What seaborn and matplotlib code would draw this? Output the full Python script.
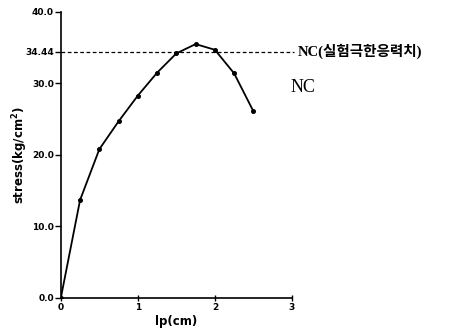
import matplotlib
matplotlib.use("Agg")
import matplotlib.pyplot as plt
import seaborn as sns
import pandas as pd

# 데이터
lp_cm = [0.0, 0.25, 0.5, 0.75, 1.0, 1.25, 1.5, 1.75, 2.0, 2.25, 2.5]
stress = [0.0, 13.7, 20.8, 24.7, 28.3, 31.5, 34.2, 35.5, 34.7, 31.4, 26.1]
limit_stress = 34.44
y_ticks = [0.0, 10.0, 20.0, 30.0, 34.44, 40.0]
y_tick_labels = ["0.0", "10.0", "20.0", "30.0", "34.44", "40.0"]
x_ticks = [0, 1, 2, 3]

sns.set_style("white")
plt.rcParams['font.family'] = ['DejaVu Sans', 'Noto Sans CJK KR']
plt.rcParams['text.color'] = 'black'
plt.rcParams['axes.labelcolor'] = 'black'
plt.rcParams['xtick.color'] = 'black'
plt.rcParams['ytick.color'] = 'black'

df = pd.DataFrame({'lp': lp_cm, 'stress': stress})

fig = plt.figure(figsize=(4.54, 3.31), dpi=100)
ax = fig.add_axes([0.134, 0.100, 0.509, 0.864])

sns.lineplot(data=df, x='lp', y='stress', ax=ax, color='black', linewidth=1.3,
             marker='o', markersize=2.8, markeredgecolor='black')

ax.axhline(limit_stress, color='black', linestyle=(0, (3, 2)), linewidth=0.9,
           xmin=0, xmax=1.01, clip_on=False)

ax.set_xlim(0, 3)
ax.set_ylim(0, 40)
ax.set_xticks(x_ticks)
ax.set_xticks([i * 0.25 for i in range(13)], minor=True)
ax.set_yticks(y_ticks)
ax.set_yticklabels(y_tick_labels)
for lab in ax.get_xticklabels() + ax.get_yticklabels():
    lab.set_fontweight('bold')
    lab.set_fontsize(6.5)

ax.tick_params(axis='x', which='both', direction='inout', length=5, width=1.0, pad=1)
ax.tick_params(axis='x', which='minor', length=3)
ax.tick_params(axis='y', which='both', direction='out', length=4, width=1.0, pad=1)
ax.tick_params(left=True, bottom=True)

sns.despine(ax=ax)
for side in ['left', 'bottom']:
    ax.spines[side].set_linewidth(1.2)
    ax.spines[side].set_color('black')

ax.set_xlabel('lp(cm)', fontsize=8.5, fontweight='bold', labelpad=2)
ax.set_ylabel('stress(kg/cm$^\\mathbf{2}$)', fontsize=8.5, fontweight='bold', labelpad=0)
ax.yaxis.set_label_coords(-0.135, 0.5)

ax.text(3.08, limit_stress, 'NC(실험극한응력치)', fontsize=10.5, fontweight='bold',
        family=['Liberation Serif', 'Noto Sans CJK KR'], va='center', ha='left',
        clip_on=False)
ax.text(2.98, 29.4, 'NC', fontsize=13, family=['Liberation Serif'],
        va='center', ha='left', clip_on=False)

fig.savefig('out.png', dpi=100)
